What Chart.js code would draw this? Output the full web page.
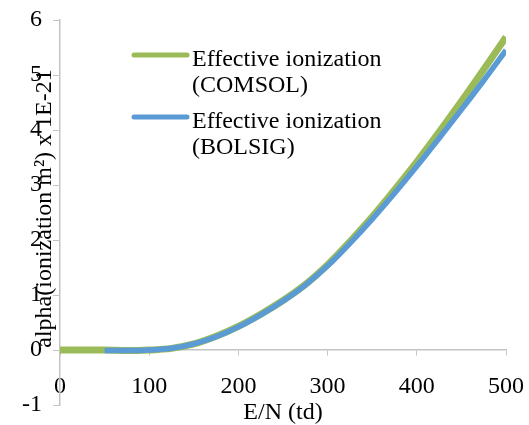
<!DOCTYPE html>
<html>
<head>
<meta charset="utf-8">
<title>Effective ionization</title>
<script src="https://cdn.jsdelivr.net/npm/chart.js@4.4.1/dist/chart.umd.min.js"></script>
<style>
  html, body { margin: 0; padding: 0; background: #fff; }
  #wrap { position: relative; width: 529px; height: 425px; }
</style>
</head>
<body>
<div id="wrap"><canvas id="ionChart"></canvas></div>
<script>
// E/N (td) and alpha values (x 1E-21)
const comsolX = [0, 25, 50, 75, 100, 125, 150, 175, 200, 225, 250, 275, 300, 325, 350, 375, 400, 425, 450, 475, 500];
const comsolY = [0.00, 0.00, 0.00, -0.01, 0.00, 0.03, 0.11, 0.25, 0.43, 0.65, 0.90, 1.19, 1.55, 1.97, 2.42, 2.91, 3.42, 3.96, 4.52, 5.10, 5.69];
const bolsigX = [50, 75, 100, 125, 150, 175, 200, 225, 250, 275, 300, 325, 350, 375, 400, 425, 450, 475, 500];
const bolsigY = [-0.01, -0.01, 0.00, 0.03, 0.11, 0.24, 0.42, 0.64, 0.89, 1.18, 1.53, 1.94, 2.38, 2.85, 3.34, 3.85, 4.37, 4.90, 5.45];

const xTicks = [0, 100, 200, 300, 400, 500];
const yTicks = [-1, 0, 1, 2, 3, 4, 5, 6];
const seriesNames = [['Effective ionization', '(COMSOL)'], ['Effective ionization', '(BOLSIG)']];
const seriesColors = ['#9BBB59', '#5B9BD5'];
const xTitle = 'E/N (td)';
const yTitle = 'alpha(ionization m²) x 1E-21';

const FONT = '"Liberation Serif", "Times New Roman", serif';
const AXIS_GREY = '#C4C4C4';

function toPoints(xs, ys) {
  return xs.map((x, i) => ({ x: x, y: ys[i] }));
}

// legend with two-line labels, drawn inside the plot like the original
const legendPlugin = {
  id: 'twoLineLegend',
  afterDraw(chart) {
    const ctx = chart.ctx;
    const rows = [55, 117];
    ctx.save();
    chart.data.datasets.forEach((ds, i) => {
      const y = rows[i];
      ctx.strokeStyle = ds.borderColor;
      ctx.lineWidth = 5;
      ctx.lineCap = 'round';
      ctx.beginPath();
      ctx.moveTo(134, y);
      ctx.lineTo(187, y);
      ctx.stroke();

      ctx.fillStyle = '#000';
      ctx.font = '24px ' + FONT;
      ctx.textAlign = 'left';
      ctx.textBaseline = 'alphabetic';
      seriesNames[i].forEach((line, k) => {
        ctx.fillText(line, 192, y + 11 + k * 26);
      });
    });
    ctx.restore();
  }
};

// axis titles: the y one overlaps the tick labels in the original,
// the x one hangs below the plot box, so both are placed by hand
const axisTitlePlugin = {
  id: 'axisTitles',
  afterDraw(chart) {
    const ctx = chart.ctx;
    const area = chart.chartArea;
    ctx.save();
    ctx.fillStyle = '#000';
    ctx.font = '24px ' + FONT;
    ctx.textAlign = 'center';
    ctx.textBaseline = 'alphabetic';
    ctx.fillText(xTitle, (area.left + area.right) / 2, 419);

    ctx.translate(51, (area.top + area.bottom) / 2 - 4);
    ctx.rotate(-Math.PI / 2);
    ctx.fillText(yTitle, 0, 0);
    ctx.restore();
  }
};

function renderChart() {
  const ctx = document.getElementById('ionChart');

  new Chart(ctx, {
    type: 'line',
    data: {
      datasets: [
        {
          label: seriesNames[0].join(' '),
          data: toPoints(comsolX, comsolY),
          borderColor: seriesColors[0],
          backgroundColor: seriesColors[0],
          borderWidth: 7,
          pointRadius: 0,
          cubicInterpolationMode: 'monotone',
          order: 1
        },
        {
          label: seriesNames[1].join(' '),
          data: toPoints(bolsigX, bolsigY),
          borderColor: seriesColors[1],
          backgroundColor: seriesColors[1],
          borderWidth: 5.5,
          pointRadius: 0,
          cubicInterpolationMode: 'monotone',
          order: 0
        }
      ]
    },
    options: {
      responsive: true,
      maintainAspectRatio: false,
      animation: false,
      layout: { padding: 0 },
      plugins: {
        legend: { display: false },
        tooltip: { enabled: false }
      },
      scales: {
        x: {
          type: 'linear',
          position: { y: 0 },
          min: 0,
          max: 500,
          afterBuildTicks: (scale) => { scale.ticks = xTicks.map(v => ({ value: v })); },
          // pin the plot edges to where the original has them
          afterFit: (scale) => { scale.paddingLeft = 0; scale.paddingRight = 23; },
          grid: { drawOnChartArea: false, drawTicks: true, tickLength: 5, color: AXIS_GREY },
          border: { display: true, color: AXIS_GREY, width: 1.5 },
          ticks: { color: '#000', padding: 17.5, font: { family: FONT, size: 24 } }
        },
        y: {
          type: 'linear',
          min: -1,
          max: 6,
          afterBuildTicks: (scale) => { scale.ticks = yTicks.map(v => ({ value: v })); },
          afterFit: (scale) => {
            scale.width = 60;
            scale.paddingTop = 20;
            scale.paddingBottom = 20;
          },
          grid: { drawOnChartArea: false, drawTicks: true, tickLength: 7, color: AXIS_GREY },
          border: { display: true, color: AXIS_GREY, width: 1.5 },
          ticks: { color: '#000', padding: 11, font: { family: FONT, size: 24 } }
        }
      }
    },
    plugins: [legendPlugin, axisTitlePlugin]
  });
}

renderChart();
</script>
</body>
</html>
